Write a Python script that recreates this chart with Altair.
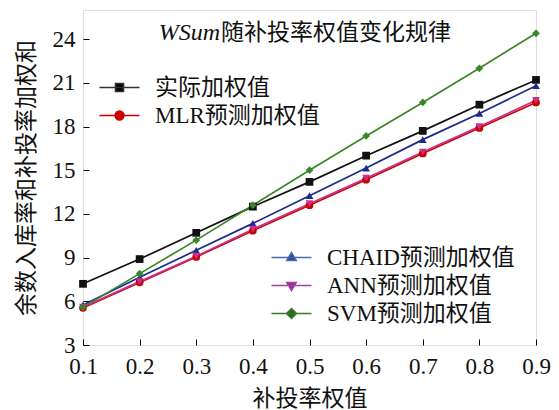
import altair as alt
import pandas as pd

x_vals = [0.1, 0.2, 0.3, 0.4, 0.5, 0.6, 0.7, 0.8, 0.9]
actual = [7.2, 8.9, 10.7, 12.5, 14.2, 16.0, 17.7, 19.5, 21.2]
mlr = [5.55, 7.3, 9.05, 10.85, 12.6, 14.35, 16.15, 17.9, 19.65]
chaid = [5.75, 7.65, 9.5, 11.35, 13.25, 15.15, 17.1, 18.9, 20.8]
ann = [5.6, 7.35, 9.1, 10.95, 12.7, 14.45, 16.25, 18.0, 19.8]
svm = [5.6, 7.9, 10.2, 12.6, 15.0, 17.35, 19.65, 22.0, 24.4]

series_names = ["实际加权值", "MLR预测加权值", "CHAID预测加权值", "ANN预测加权值", "SVM预测加权值"]
series_values = [actual, mlr, chaid, ann, svm]
line_colors = ["#111111", "#cc0000", "#1c2a8e", "#c8308a", "#3a862a"]
point_shapes = ["square", "circle", "triangle-up", "triangle-down", "diamond"]

y_ticks = [3, 6, 9, 12, 15, 18, 21, 24]

FONT = "Liberation Serif, Noto Sans CJK SC"

rows = []
for name, vals in zip(series_names, series_values):
    for xv, yv in zip(x_vals, vals):
        rows.append({"x": xv, "y": yv, "s": name})
df = pd.DataFrame(rows)

xenc = alt.X("x:Q", scale=alt.Scale(domain=[0.1, 0.9], nice=False),
             axis=alt.Axis(values=x_vals, format=".1f", domain=False, grid=False,
                           tickSize=6, offset=-6, tickColor="black", tickWidth=1,
                           labelPadding=10, labelFont=FONT, labelFontSize=23,
                           labelColor="#111", labelFlush=False, labelOverlap=False,
                           title="补投率权值", titleFont=FONT, titleFontSize=23,
                           titleFontWeight="normal", titleColor="#111", titlePadding=9))
yenc = alt.Y("y:Q", scale=alt.Scale(domain=[3, 26], nice=False, zero=False),
             axis=alt.Axis(values=y_ticks, domain=False, grid=False,
                           tickSize=6, offset=-6, tickColor="black", tickWidth=1,
                           labelPadding=8, labelFont=FONT, labelFontSize=23,
                           labelColor="#111", labelFlush=False, labelOverlap=False,
                           title="余数入库率和补投率加权和", titleFont=FONT, titleFontSize=23,
                           titleFontWeight="normal", titleColor="#111", titlePadding=14))

color_scale = alt.Scale(domain=series_names, range=line_colors)

base = alt.Chart(df)
lines = base.mark_line(strokeWidth=1.7).encode(
    x=xenc, y=yenc,
    color=alt.Color("s:N", scale=color_scale, legend=None, sort=series_names),
    detail="s:N",
)
points = base.mark_point(filled=True, size=60, opacity=1).encode(
    x="x:Q", y="y:Q",
    color=alt.Color("s:N", scale=color_scale, legend=None),
    shape=alt.Shape("s:N", scale=alt.Scale(domain=series_names, range=point_shapes), legend=None),
)

# legend symbol paths: a short line with the marker in the middle
LINE = "M-2.5,0H2.5"
sym_square = LINE + "M-0.5,-0.5H0.5V0.5H-0.5Z"
sym_circle = LINE + "M0.55,0A0.55,0.55,0,1,1,-0.55,0A0.55,0.55,0,1,1,0.55,0Z"
sym_up = LINE + "M0,-0.62L0.58,0.36H-0.58Z"
sym_down = LINE + "M0,0.62L0.58,-0.36H-0.58Z"
sym_diamond = LINE + "M0,-0.62L0.62,0L0,0.62L-0.62,0Z"

leg1_names = series_names[:2]
leg1_stroke = ["#333333", "#cc0000"]
leg1_fill = ["#000000", "#cc0000"]
leg1_shapes = [sym_square, sym_circle]

leg2_names = series_names[2:]
leg2_stroke = ["#4a68b0", "#a040a0", "#3a7a2a"]
leg2_fill = ["#1a3a8c", "#8a2a8a", "#2a6a1a"]
leg2_shapes = [sym_up, sym_down, sym_diamond]


def legend_layer(names, strokes, fills, shapes, lx, ly):
    leg = alt.Legend(title=None, orient="none", legendX=lx, legendY=ly,
                     labelFont=FONT, labelFontSize=23, labelColor="#111",
                     labelLimit=400, labelOffset=24, rowPadding=4, padding=0,
                     symbolSize=256, symbolStrokeWidth=1.6, symbolOpacity=1)
    return base.transform_filter("false").mark_point(size=256, strokeWidth=1.6, opacity=1).encode(
        x="x:Q", y="y:Q",
        fill=alt.Fill("s:N", scale=alt.Scale(domain=names, range=fills), legend=leg),
        stroke=alt.Stroke("s:N", scale=alt.Scale(domain=names, range=strokes), legend=leg),
        shape=alt.Shape("s:N", scale=alt.Scale(domain=names, range=shapes), legend=leg),
    )


leg1 = legend_layer(leg1_names, leg1_stroke, leg1_fill, leg1_shapes, 25, 66)
leg2 = legend_layer(leg2_names, leg2_stroke, leg2_fill, leg2_shapes, 197, 236)

title_df = pd.DataFrame({"a": ["WSum"], "b": ["随补投率权值变化规律"]})
t1 = alt.Chart(title_df).mark_text(font="Liberation Serif", fontStyle="italic", fontSize=24,
                                   align="right", baseline="middle", color="#111").encode(
    text="a:N", x=alt.value(137), y=alt.value(23))
t2 = alt.Chart(title_df).mark_text(font=FONT, fontSize=23, align="left", baseline="middle",
                                   color="#111").encode(
    text="b:N", x=alt.value(138), y=alt.value(23))

chart = alt.layer(lines, points, leg1, leg2, t1, t2).resolve_scale(
    shape="independent", fill="independent", stroke="independent"
).resolve_legend(
    shape="independent", fill="independent", stroke="independent"
).properties(
    width=453, height=335,
    autosize=alt.AutoSizeParams(type="none"),
    padding={"left": 75, "top": 2, "right": 15, "bottom": 64},
).configure_view(stroke="black", strokeWidth=1.3).configure(background="white")

chart.save("out.html", embed_options={"renderer": "svg", "actions": False})
